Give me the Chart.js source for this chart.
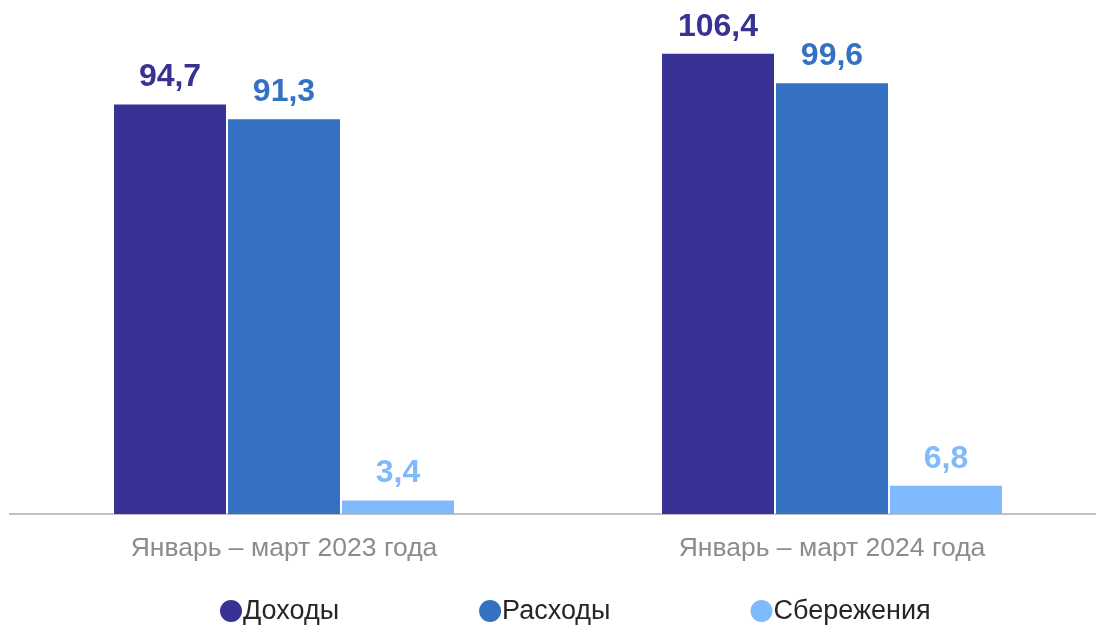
<!DOCTYPE html>
<html>
<head>
<meta charset="utf-8">
<script src="https://cdn.jsdelivr.net/npm/chart.js@4"></script>
<style>
  html, body { margin: 0; padding: 0; background: #fff; overflow: hidden; }
  #wrap { width: 1106px; height: 625px; position: relative; }
</style>
</head>
<body>
<div id="wrap"><canvas id="chart"></canvas></div>
<script>
const categories = ['Январь – март 2023 года', 'Январь – март 2024 года']
const seriesNames = ['Доходы', 'Расходы', 'Сбережения']
const income = [94.7, 106.4]
const expenses = [91.3, 99.6]
const savings = [3.4, 6.8]
const colors = ['#373294', '#3571c2', '#7ebafc']

const FONT = "'Liberation Sans', Arial, sans-serif"

// value labels above bars
const valueLabels = {
  id: 'valueLabels',
  afterDatasetsDraw(chart) {
    const ctx = chart.ctx
    ctx.save()
    ctx.font = 'bold 32px ' + FONT
    ctx.textAlign = 'center'
    ctx.textBaseline = 'alphabetic'
    chart.data.datasets.forEach((ds, i) => {
      ctx.fillStyle = ds.backgroundColor
      chart.getDatasetMeta(i).data.forEach((bar, j) => {
        const txt = ds.data[j].toFixed(1).replace('.', ',')
        ctx.fillText(txt, bar.x, bar.y - 17)
      })
    })
    ctx.restore()
  },
}

// legend drawn below the axis
const bottomLegend = {
  id: 'bottomLegend',
  afterDraw(chart) {
    const ctx = chart.ctx
    const y = 611
    const r = 11
    const gap = 140
    ctx.save()
    ctx.font = '27px ' + FONT
    ctx.textBaseline = 'middle'
    ctx.textAlign = 'left'
    let x = 220
    chart.data.datasets.forEach((ds) => {
      ctx.fillStyle = ds.backgroundColor
      ctx.beginPath()
      ctx.arc(x + r, y, r, 0, Math.PI * 2)
      ctx.fill()
      ctx.fillStyle = '#262626'
      ctx.fillText(ds.label, x + 2 * r + 1, y + 1)
      x += 2 * r + 1 + ctx.measureText(ds.label).width + gap
    })
    ctx.restore()
  },
}

const ctx = document.getElementById('chart').getContext('2d')
new Chart(ctx, {
  type: 'bar',
  data: {
    labels: categories,
    datasets: [income, expenses, savings].map((d, i) => ({
      label: seriesNames[i],
      data: d,
      backgroundColor: colors[i],
      borderColor: 'rgba(255,255,255,0.35)',
      borderWidth: 1,
      barPercentage: 1,
      categoryPercentage: 0.624,
    })),
  },
  options: {
    responsive: true,
    maintainAspectRatio: false,
    animation: false,
    layout: { padding: { left: 10, right: 0, top: 11, bottom: 41 } },
    plugins: {
      legend: { display: false },
      tooltip: { enabled: false },
    },
    scales: {
      x: {
        grid: { display: false, drawTicks: false },
        border: { display: true, color: '#c0c0c0', width: 2 },
        ticks: { color: '#8c8c8c', font: { family: FONT, size: 26.5 }, padding: 19 },
      },
      y: {
        display: false,
        min: 0,
        max: 116,
      },
    },
  },
  plugins: [valueLabels, bottomLegend],
})
</script>
</body>
</html>
